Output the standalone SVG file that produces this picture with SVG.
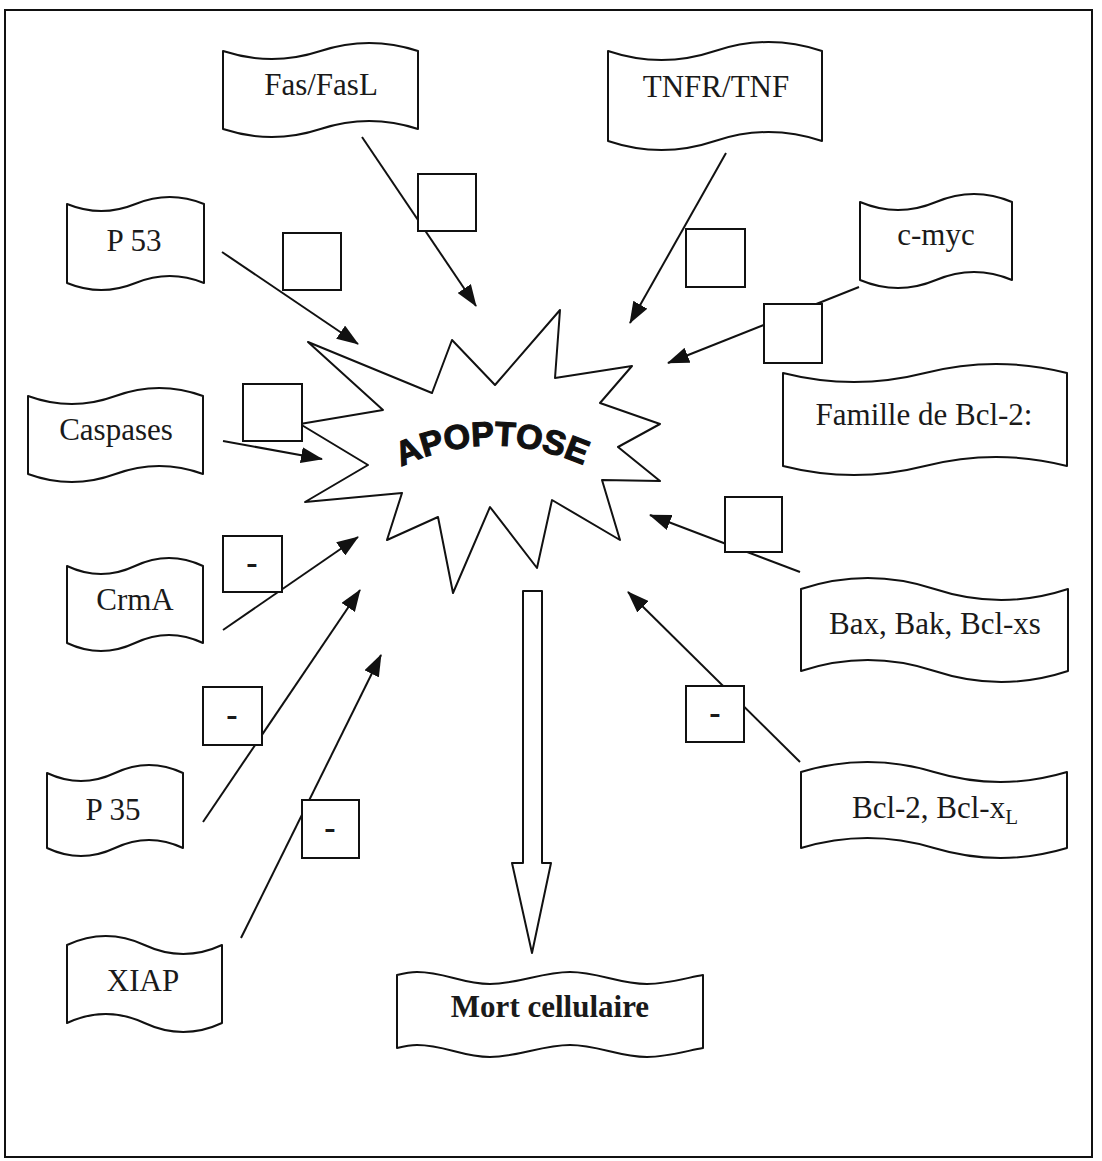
<svg xmlns="http://www.w3.org/2000/svg" width="1102" height="1161" viewBox="0 0 1102 1161">
<defs>
<style>
.shape{fill:#fff;stroke:#111;stroke-width:2;stroke-linejoin:round}
.sq{fill:#fff;stroke:#111;stroke-width:2}
.lbl{font-family:"Liberation Serif","Times New Roman",serif;font-size:31px;fill:#1a1a1a;text-anchor:middle}
.minus{font-family:"Liberation Serif","Times New Roman",serif;font-size:34px;font-weight:bold;fill:#1a1a1a;text-anchor:middle}
.conn line{stroke:#111;stroke-width:2;marker-end:url(#ah)}
</style>
<marker id="ah" viewBox="0 0 22 16" refX="21" refY="8" markerWidth="22" markerHeight="16" markerUnits="userSpaceOnUse" orient="auto">
<path d="M0,0 L22,8 L0,16 Z" fill="#111"/>
</marker>
<path id="arc" d="M391,472 Q490,420 594,470"/>
</defs>
<rect x="0" y="0" width="1102" height="1161" fill="#fff"/>
<rect x="5" y="10" width="1087" height="1147" fill="none" stroke="#111" stroke-width="2"/>

<g id="apoptose">
<polygon class="shape" points="308,342 432,393 452,340 495,385 560,310 555,378 632,366 600,403 660,424 618,447 660,481 602,480 620,540 552,500 537,568 490,507 453,593 438,517 387,540 402,493 305,502 368,465 300,424 383,410"/>
<text font-family="'Liberation Sans',Arial,sans-serif" font-weight="bold" font-size="34" fill="#111" stroke="#111" stroke-width="1.2" text-anchor="middle"><textPath href="#arc" startOffset="50%">APOPTOSE</textPath></text>
</g>

<g id="connectors" class="conn">
<line x1="362" y1="137" x2="476" y2="306"/>
<line x1="726" y1="153" x2="630" y2="323"/>
<line x1="859" y1="287" x2="668" y2="363"/>
<line x1="222" y1="252" x2="358" y2="344"/>
<line x1="223" y1="441" x2="322" y2="459"/>
<line x1="223" y1="630" x2="358" y2="537"/>
<line x1="203" y1="822" x2="360" y2="590"/>
<line x1="241" y1="938" x2="381" y2="655"/>
<line x1="800" y1="572" x2="650" y2="515"/>
<line x1="800" y1="762" x2="628" y2="592"/>
</g>

<g id="markers">
<rect class="sq" x="418" y="174" width="58" height="57"/>
<rect class="sq" x="686" y="229" width="59" height="58"/>
<rect class="sq" x="764" y="304" width="58" height="59"/>
<rect class="sq" x="283" y="233" width="58" height="57"/>
<rect class="sq" x="243" y="384" width="59" height="57"/>
<rect class="sq" x="725" y="497" width="57" height="55"/>
<rect class="sq" x="223" y="536" width="59" height="56"/>
<text class="minus" x="252" y="574">-</text>
<rect class="sq" x="203" y="687" width="59" height="58"/>
<text class="minus" x="232" y="726">-</text>
<rect class="sq" x="302" y="800" width="57" height="58"/>
<text class="minus" x="330" y="839">-</text>
<rect class="sq" x="686" y="686" width="58" height="56"/>
<text class="minus" x="715" y="724">-</text>
</g>

<g id="death-arrow">
<path class="shape" d="M523,591 L542,591 L542,863 L551,863 L532,953 L512,863 L523,863 Z"/>
</g>

<g id="fas">
<path class="shape" d="M223,51 Q271.75,67 320.5,51 T418,51 L418,129 Q369.25,113 320.5,129 T223,129 Z"/>
<text class="lbl" x="321" y="95">Fas/FasL</text>
</g>
<g id="tnfr">
<path class="shape" d="M608,51 Q661.5,69 715,51 T822,51 L822,141 Q768.5,123 715,141 T608,141 Z"/>
<text class="lbl" x="716" y="97">TNFR/TNF</text>
</g>
<g id="cmyc">
<path class="shape" d="M860,202 Q898,218 936,202 T1012,202 L1012,280 Q974,264 936,280 T860,280 Z"/>
<text class="lbl" x="936" y="245">c-myc</text>
</g>
<g id="p53">
<path class="shape" d="M67,204 Q101.25,218 135.5,204 T204,204 L204,283 Q169.75,269 135.5,283 T67,283 Z"/>
<text class="lbl" x="134" y="251">P 53</text>
</g>
<g id="caspases">
<path class="shape" d="M28,396 Q71.75,412 115.5,396 T203,396 L203,474 Q159.25,458 115.5,474 T28,474 Z"/>
<text class="lbl" x="116" y="440">Caspases</text>
</g>
<g id="famille">
<path class="shape" d="M783,373 Q854,391 925,373 T1067,373 L1067,466 Q996,448 925,466 T783,466 Z"/>
<text class="lbl" x="924" y="425">Famille de Bcl-2:</text>
</g>
<g id="crma">
<path class="shape" d="M67,566 Q101,582 135,566 T203,566 L203,643 Q169,627 135,643 T67,643 Z"/>
<text class="lbl" x="135" y="610">CrmA</text>
</g>
<g id="bax">
<path class="shape" d="M801,589 Q867.75,567 934.5,589 T1068,589 L1068,671 Q1001.25,693 934.5,671 T801,671 Z"/>
<text class="lbl" x="935" y="634">Bax, Bak, Bcl-xs</text>
</g>
<g id="p35">
<path class="shape" d="M47,773 Q81,789 115,773 T183,773 L183,848 Q149,832 115,848 T47,848 Z"/>
<text class="lbl" x="113" y="820">P 35</text>
</g>
<g id="bcl2">
<path class="shape" d="M801,772 Q867.5,752 934,772 T1067,772 L1067,848 Q1000.5,868 934,848 T801,848 Z"/>
<text class="lbl" x="935" y="818">Bcl-2, Bcl-x<tspan font-size="21" dy="6">L</tspan></text>
</g>
<g id="xiap">
<path class="shape" d="M67,945 Q105.75,927 144.5,945 T222,945 L222,1023 Q183.25,1041 144.5,1023 T67,1023 Z"/>
<text class="lbl" x="143" y="991">XIAP</text>
</g>
<g id="mort">
<path class="shape" d="M397,975 C405,973 410,972 417,972 C445,972 462,984 490,984 C518,984 542,972 570,972 C598,972 619,984 647,984 C668,984 690,977 703,975 L703,1048 C690,1050 668,1057 647,1057 C619,1057 598,1045 570,1045 C542,1045 518,1057 490,1057 C462,1057 445,1045 417,1045 C410,1045 405,1046 397,1048 Z"/>
<text class="lbl" x="550" y="1017" font-weight="bold" font-size="32">Mort cellulaire</text>
</g>
</svg>
